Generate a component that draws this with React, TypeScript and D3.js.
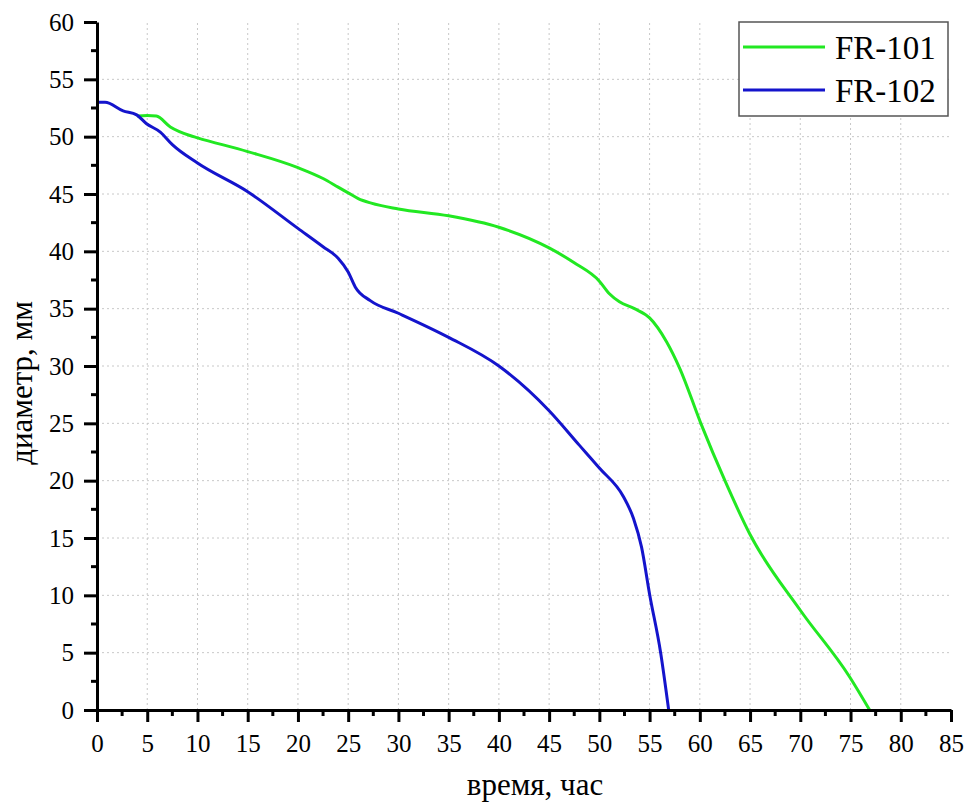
import React, { useRef, useEffect } from "react";
import * as d3 from "d3";

// FR-101 (green)
const fr101Time = [4, 5, 5.9, 7.3, 9.25, 10, 15, 20, 22.5, 24, 25, 26, 27.3, 30, 35, 40, 45, 47.5, 50, 51, 52, 53.5, 55, 56.7, 58, 60.1, 62.5, 65, 70, 74.9, 76.9];
const fr101Diam = [51.8, 51.85, 51.8, 50.85, 50.1, 49.9, 48.7, 47.3, 46.35, 45.6, 45.1, 44.6, 44.2, 43.7, 43.1, 42.1, 40.3, 39.0, 37.4, 36.3, 35.6, 35.0, 34.2, 32.1, 29.8, 25.0, 20.0, 15.3, 8.7, 2.9, 0];

// FR-102 (blue)
const fr102Time = [0, 0.8, 2.6, 3.95, 4.9, 6.3, 7.5, 10, 15, 20, 22.5, 24, 25, 25.7, 27.2, 30, 35, 40, 45, 48, 50, 52.4, 53.4, 54.2, 55, 56.1, 56.9];
const fr102Diam = [53.0, 53.0, 52.25, 51.9, 51.15, 50.4, 49.3, 47.7, 45.2, 42.0, 40.4, 39.4, 38.2, 36.9, 35.7, 34.6, 32.5, 30.0, 26.1, 23.1, 21.1, 18.6, 16.7, 14.2, 10.1, 5.0, 0];

const seriesNames = ["FR-101", "FR-102"];
const seriesColors = ["#22e822", "#1414cc"];

const xTicks = d3.range(0, 86, 5);
const yTicks = d3.range(0, 61, 5);

const W = 969;
const H = 805;
const FONT = "'Liberation Serif', 'Times New Roman', serif";

if (typeof document !== "undefined") document.body.style.margin = "0";

const App = () => {
  const ref = useRef<SVGSVGElement>(null);

  useEffect(() => {
    const svg = d3.select(ref.current);
    svg.selectAll("*").remove();

    const x = d3.scaleLinear().domain([0, 85]).range([97, 951]);
    const y = d3.scaleLinear().domain([0, 60]).range([710, 22]);

    // grid
    const grid = svg.append("g").attr("stroke", "#c8c8c8").attr("stroke-width", 1).attr("stroke-dasharray", "2,3");
    grid.selectAll(".vg").data(xTicks.filter((t) => t > 0 && t < 85)).join("line")
      .attr("x1", (d) => x(d)).attr("x2", (d) => x(d)).attr("y1", y(0)).attr("y2", y(60));
    grid.selectAll(".hg").data(yTicks.filter((t) => t > 0 && t < 60)).join("line")
      .attr("y1", (d) => y(d)).attr("y2", (d) => y(d)).attr("x1", x(0)).attr("x2", x(85));

    // lines
    const data = [
      fr101Time.map((t, i) => [t, fr101Diam[i]] as [number, number]),
      fr102Time.map((t, i) => [t, fr102Diam[i]] as [number, number]),
    ];
    const line = d3.line<[number, number]>().x((d) => x(d[0])).y((d) => y(d[1])).curve(d3.curveMonotoneX);
    svg.selectAll(".series").data(data).join("path")
      .attr("class", "series")
      .attr("d", (d) => line(d))
      .attr("fill", "none")
      .attr("stroke", (_, i) => seriesColors[i])
      .attr("stroke-width", 3);

    // axes
    const xAxis = d3.axisBottom(x).tickValues(xTicks).tickSize(12).tickSizeOuter(0).tickPadding(6);
    const xg = svg.append("g").attr("transform", `translate(0,${y(0)})`).call(xAxis);
    xg.append("g").selectAll("line").data(d3.range(2.5, 85, 5)).join("line")
      .attr("x1", (d) => x(d)).attr("x2", (d) => x(d)).attr("y1", 0).attr("y2", 6)
      .attr("stroke", "#000").attr("stroke-width", 3);

    const yAxis = d3.axisLeft(y).tickValues(yTicks).tickSize(13).tickSizeOuter(0).tickPadding(10);
    const yg = svg.append("g").attr("transform", `translate(${x(0)},0)`).call(yAxis);
    yg.append("g").selectAll("line").data(d3.range(2.5, 60, 5)).join("line")
      .attr("y1", (d) => y(d)).attr("y2", (d) => y(d)).attr("x1", 0).attr("x2", -6)
      .attr("stroke", "#000").attr("stroke-width", 3);

    [xg, yg].forEach((g) => {
      g.attr("font-family", FONT).attr("font-size", 25);
      g.select(".domain").attr("stroke", "#000").attr("stroke-width", 3);
      g.selectAll(".tick line").attr("stroke", "#000").attr("stroke-width", 3);
      g.selectAll(".tick text").attr("fill", "#000").style("font-family", FONT).style("font-size", "25px");
    });
    xg.selectAll(".tick text").attr("dy", "0.95em");

    // axis titles
    svg.append("text").attr("x", 535).attr("y", 795).attr("text-anchor", "middle")
      .style("font-family", FONT).style("font-size", "31px").text("время, час");
    svg.append("text").attr("transform", `translate(32,${383}) rotate(-90)`).attr("text-anchor", "middle")
      .style("font-family", FONT).style("font-size", "31px").text("диаметр, мм");

    // legend
    const lg = svg.append("g");
    lg.append("rect").attr("x", 739).attr("y", 22).attr("width", 209).attr("height", 94)
      .attr("fill", "#fff").attr("stroke", "#555").attr("stroke-width", 1.5);
    seriesNames.forEach((name, i) => {
      const ly = 47 + i * 43;
      lg.append("line").attr("x1", 743).attr("x2", 825).attr("y1", ly).attr("y2", ly)
        .attr("stroke", seriesColors[i]).attr("stroke-width", 3);
      lg.append("text").attr("x", 835).attr("y", ly + 12)
        .style("font-family", FONT).style("font-size", "33px").text(name);
    });
  }, []);

  return <svg ref={ref} width={W} height={H} style={{ display: "block", background: "#fff" }} />;
};

export default App;
